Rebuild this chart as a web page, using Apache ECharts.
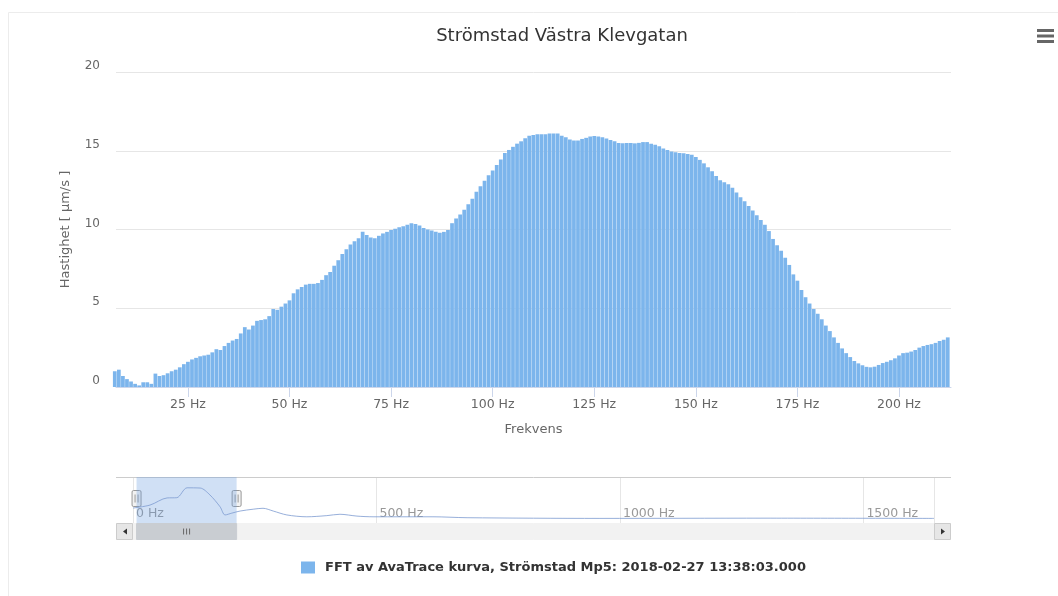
<!DOCTYPE html>
<html>
<head>
<meta charset="utf-8">
<title>Strömstad Västra Klevgatan</title>
<script src="https://cdn.jsdelivr.net/npm/echarts@6/dist/echarts.min.js"></script>
<style>
  html, body { margin: 0; padding: 0; background: #fff; }
  #chart { width: 1058px; height: 596px; }
</style>
</head>
<body>
<div id="chart"></div>
<script>
// FFT bins, 1 Hz apart, first bin at 7 Hz
const freqStart = 7
const freqStep = 1
const speed = [
  1.0, 1.1, 0.7, 0.5, 0.35, 0.2, 0.1, 0.3, 0.3, 0.2,
  0.85, 0.7, 0.75, 0.87, 1.0, 1.1, 1.25, 1.45, 1.6, 1.75,
  1.85, 1.95, 2.0, 2.05, 2.2, 2.4, 2.35, 2.6, 2.8, 2.95,
  3.05, 3.4, 3.8, 3.65, 3.9, 4.2, 4.25, 4.3, 4.5, 4.95,
  4.9, 5.1, 5.3, 5.5, 5.95, 6.2, 6.35, 6.5, 6.55, 6.55,
  6.6, 6.8, 7.1, 7.3, 7.7, 8.05, 8.45, 8.75, 9.05, 9.25,
  9.45, 9.85, 9.65, 9.5, 9.45, 9.6, 9.75, 9.85, 9.97, 10.05,
  10.15, 10.2, 10.3, 10.4, 10.35, 10.25, 10.1, 10.0, 9.93, 9.85,
  9.8, 9.85, 9.97, 10.4, 10.7, 10.95, 11.25, 11.6, 11.95, 12.4,
  12.75, 13.1, 13.45, 13.75, 14.1, 14.45, 14.85, 15.05, 15.25, 15.45,
  15.6, 15.8, 15.95, 16.0, 16.05, 16.05, 16.05, 16.1, 16.1, 16.1,
  15.95, 15.85, 15.72, 15.65, 15.65, 15.75, 15.82, 15.9, 15.93, 15.9,
  15.85, 15.78, 15.68, 15.6, 15.5, 15.47, 15.5, 15.5, 15.47, 15.5,
  15.55, 15.55, 15.45, 15.38, 15.28, 15.15, 15.05, 14.95, 14.9, 14.86,
  14.84, 14.8, 14.75, 14.6, 14.42, 14.2, 13.95, 13.7, 13.4, 13.12,
  13.0, 12.87, 12.65, 12.35, 12.05, 11.8, 11.5, 11.2, 10.9, 10.6,
  10.3, 9.9, 9.4, 9.0, 8.65, 8.2, 7.75, 7.15, 6.75, 6.16,
  5.7, 5.3, 4.95, 4.65, 4.3, 3.9, 3.55, 3.15, 2.8, 2.45,
  2.15, 1.9, 1.65, 1.5, 1.38, 1.28, 1.25, 1.29, 1.4, 1.52,
  1.6, 1.7, 1.82, 2.0, 2.15, 2.18, 2.25, 2.35, 2.5, 2.6,
  2.67, 2.72, 2.8, 2.92, 3.0, 3.15
]

// navigator overview (whole spectrum, smoothed)
const navHz = [0, 35, 70, 90, 111, 138, 158, 179, 189, 203, 220, 247, 267, 288, 316, 357, 398, 425, 460, 493, 616, 686, 959, 1300, 1645]
const navVal = [6.5, 7.8, 10.9, 11.0, 15.3, 15.2, 12.2, 7.0, 3.5, 4.3, 5.2, 6.0, 6.4, 5.2, 3.5, 2.7, 3.2, 3.8, 3.0, 2.7, 2.7, 2.3, 2.0, 2.1, 2.0]

const xMin = 7.3
const xMax = 212.8
const xTicks = [25, 50, 75, 100, 125, 150, 175, 200]
const navMax = 1645
const yTicksMax = 20

const seriesName = 'FFT av AvaTrace kurva, Strömstad Mp5: 2018-02-27 13:38:03.000'
const font = 'DejaVu Sans'

const barData = speed.map((v, i) => [freqStart + i * freqStep, v])
const navData = navHz.map((f, i) => [f, navVal[i]])

const chart = echarts.init(document.getElementById('chart'))

const option = {
  animation: false,
  backgroundColor: '#fff',
  textStyle: { fontFamily: font },
  title: {
    text: 'Strömstad Västra Klevgatan',
    left: 557,
    textAlign: 'center',
    top: 22,
    textStyle: { fontFamily: font, fontSize: 18, fontWeight: 'normal', color: '#333' }
  },
  legend: {
    left: 301,
    top: 561,
    padding: 0,
    itemWidth: 14,
    itemHeight: 12,
    icon: 'rect',
    textStyle: { fontFamily: font, fontSize: 13, fontWeight: 'bold', color: '#333', padding: [0, 0, 0, 5] },
    data: [seriesName]
  },
  grid: [
    { left: 116, right: 107, top: 72, bottom: 209, containLabel: false, outerBoundsMode: 'none' },
    { left: 133, width: 801, top: 477, height: 46, containLabel: false, outerBoundsMode: 'none' }
  ],
  xAxis: [
    {
      type: 'value',
      gridIndex: 0,
      min: xMin,
      max: xMax,
      name: 'Frekvens',
      nameLocation: 'middle',
      nameGap: 36,
      nameTextStyle: { color: '#666', fontSize: 13, fontFamily: font },
      axisLine: { show: true, lineStyle: { color: '#ccd6eb' } },
      axisTick: { show: true, length: 10, lineStyle: { color: '#ccd6eb' }, customValues: xTicks },
      axisLabel: {
        color: '#666', fontSize: 12.5, margin: 11,
        customValues: xTicks,
        formatter: v => v + ' Hz'
      },
      splitLine: { show: false }
    },
    {
      type: 'value',
      gridIndex: 1,
      min: 0,
      max: navMax,
      interval: 500,
      axisLine: { show: false },
      axisTick: { show: false },
      axisLabel: {
        inside: true,
        align: 'left',
        verticalAlign: 'bottom',
        margin: 3,
        padding: [0, 0, 0, 3],
        color: '#999',
        fontSize: 12.5,
        showMaxLabel: false,
        formatter: v => v + ' Hz'
      },
      splitLine: { show: true, lineStyle: { color: '#e6e6e6' } }
    }
  ],
  yAxis: [
    {
      type: 'value',
      gridIndex: 0,
      min: 0,
      max: yTicksMax,
      interval: 5,
      name: 'Hastighet [ μm/s ]',
      nameLocation: 'middle',
      nameGap: 44,
      nameTextStyle: { color: '#666', fontSize: 13, fontFamily: font },
      axisLine: { show: false },
      axisTick: { show: false },
      axisLabel: { color: '#666', fontSize: 12, margin: 16, verticalAlign: 'bottom' },
      splitLine: { lineStyle: { color: '#e6e6e6' } }
    },
    {
      type: 'value',
      gridIndex: 1,
      min: 0,
      max: 20,
      show: false
    }
  ],
  series: [
    {
      name: seriesName,
      type: 'bar',
      xAxisIndex: 0,
      yAxisIndex: 0,
      barCategoryGap: '8%',
      itemStyle: { color: '#7cb5ec' },
      data: barData
    },
    {
      name: 'navigator',
      type: 'line',
      xAxisIndex: 1,
      yAxisIndex: 1,
      showSymbol: false,
      smooth: 0.3,
      lineStyle: { color: '#7d9bd1', width: 1, opacity: 0.8 },
      data: navData,
      markArea: {
        silent: true,
        itemStyle: { color: 'rgba(110,160,225,0.32)' },
        data: [[{ xAxis: xMin }, { xAxis: xMax }]]
      }
    }
  ]
}

chart.setOption(option)

// navigator handles, scrollbar and menu button
const xL = chart.convertToPixel({ xAxisIndex: 1 }, xMin)
const xR = chart.convertToPixel({ xAxisIndex: 1 }, xMax)
const navTop = 477
const navBottom = 523
const sbH = 17
const plotL = 116
const plotR = 951

function handle(x) {
  return {
    type: 'group',
    children: [
      { type: 'rect', shape: { x: x - 4.5, y: 490.5, width: 9, height: 16, r: 1.5 }, style: { fill: '#f2f2f2', stroke: '#999', lineWidth: 1 } },
      { type: 'line', shape: { x1: x - 1.5, y1: 494.5, x2: x - 1.5, y2: 502.5 }, style: { stroke: '#999', lineWidth: 1 } },
      { type: 'line', shape: { x1: x + 1.5, y1: 494.5, x2: x + 1.5, y2: 502.5 }, style: { stroke: '#999', lineWidth: 1 } }
    ]
  }
}

const gripX = (xL + xR) / 2
chart.setOption({
  graphic: [
    { type: 'rect', z: -10, shape: { x: 8.5, y: 12.5, width: 1200, height: 700 }, style: { fill: 'none', stroke: '#ececec', lineWidth: 1 } },
    { type: 'line', shape: { x1: plotL, y1: navTop + 0.5, x2: plotR, y2: navTop + 0.5 }, style: { stroke: '#cccccc', lineWidth: 1 } },
    // scrollbar
    { type: 'rect', shape: { x: plotL + 0.5, y: navBottom + 0.5, width: plotR - plotL - 1, height: sbH - 1 }, style: { fill: '#f2f2f2', stroke: '#f2f2f2' } },
    { type: 'rect', shape: { x: xL, y: navBottom + 0.5, width: xR - xL, height: sbH - 1 }, style: { fill: '#c9cdd2', stroke: '#c9cdd2' } },
    { type: 'line', shape: { x1: gripX - 3, y1: 528.5, x2: gripX - 3, y2: 534.5 }, style: { stroke: '#666', lineWidth: 1 } },
    { type: 'line', shape: { x1: gripX, y1: 528.5, x2: gripX, y2: 534.5 }, style: { stroke: '#666', lineWidth: 1 } },
    { type: 'line', shape: { x1: gripX + 3, y1: 528.5, x2: gripX + 3, y2: 534.5 }, style: { stroke: '#666', lineWidth: 1 } },
    { type: 'rect', shape: { x: plotL + 0.5, y: navBottom + 0.5, width: 16, height: sbH - 1 }, style: { fill: '#e6e6e6', stroke: '#cccccc' } },
    { type: 'polygon', shape: { points: [[127, 528.5], [127, 534.5], [123, 531.5]] }, style: { fill: '#333' } },
    { type: 'rect', shape: { x: plotR - 16.5, y: navBottom + 0.5, width: 16, height: sbH - 1 }, style: { fill: '#e6e6e6', stroke: '#cccccc' } },
    { type: 'polygon', shape: { points: [[941, 528.5], [941, 534.5], [945, 531.5]] }, style: { fill: '#333' } },
    handle(xL),
    handle(xR),
    // context menu icon
    { type: 'rect', shape: { x: 1037, y: 29, width: 17, height: 3 }, style: { fill: '#666' } },
    { type: 'rect', shape: { x: 1037, y: 34.5, width: 17, height: 3 }, style: { fill: '#666' } },
    { type: 'rect', shape: { x: 1037, y: 40, width: 17, height: 3 }, style: { fill: '#666' } }
  ]
})
</script>
</body>
</html>
